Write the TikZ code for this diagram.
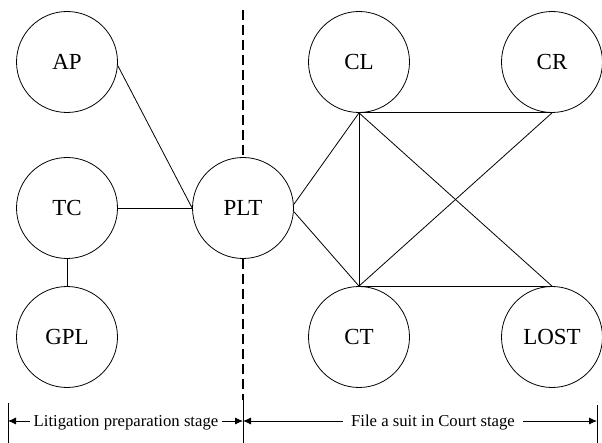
\documentclass[tikz,border=0pt]{standalone}
\usepackage{fontspec}
\setmainfont{Liberation Serif}
\usetikzlibrary{arrows.meta}
\begin{document}
\begin{tikzpicture}[x=1pt,y=-1pt,
  st/.style={circle,draw,line width=0.8pt,minimum size=101pt,inner sep=0pt,font=\fontsize{23}{26}\selectfont},
  link/.style={line width=0.8pt},
  divider/.style={line width=1.8pt,dash pattern=on 10pt off 5pt},
  stagearr/.style={line width=0.8pt,-{Latex[length=8pt,width=7pt]}},
  lab/.style={font=\fontsize{16.7}{19}\selectfont,inner sep=4pt},
  bar/.style={line width=0.8pt}]
\useasboundingbox (0,0) rectangle (602,443);
% states
\node[st] (AP) at (67,62) {AP};
\node[st] (TC) at (67,208) {TC};
\node[st] (GPL) at (67,337) {GPL};
\node[st] (PLT) at (243,208) {PLT};
\node[st] (CL) at (359,62) {CL};
\node[st] (CR) at (552,62) {CR};
\node[st] (CT) at (359,337) {CT};
\node[st] (LOST) at (552,337) {LOST};
% links
\draw[link] (AP.-4) -- (PLT.west);
\draw[link] (TC.east) -- (PLT.west);
\draw[link] (TC.south) -- (GPL.north);
\draw[link] (PLT.4) -- (CL.south);
\draw[link] (PLT.-4) -- (CT.north);
\draw[link] (CL.south) -- (CR.south);
\draw[link] (CL.south) -- (CT.north);
\draw[link] (CL.south) -- (LOST.north);
\draw[link] (CR.south) -- (CT.north);
\draw[link] (CT.north) -- (LOST.north);
% divider
\coordinate (dtop) at (243,10);
\coordinate (dbot) at (243,400);
\draw[divider] (dtop) -- (PLT.north);
\draw[divider] (PLT.south) -- (dbot);
% stage bars
\coordinate (lbarT) at (8,403);
\coordinate (lbarB) at (8,443);
\coordinate (cbarB) at (243,443);
\coordinate (rbarT) at (597,405);
\coordinate (rbarB) at (597,443);
\draw[bar] (lbarT) -- (lbarB);
\draw[bar] (dbot) -- (cbarB);
\draw[bar] (rbarT) -- (rbarB);
\coordinate (la) at (8,421);
\coordinate (ca) at (243,421);
\coordinate (ra) at (597,421);
\node[lab,anchor=base] (lps) at (126,426) {Litigation preparation stage};
\node[lab,anchor=base,inner xsep=8pt] (fsc) at (433,426) {File a suit in Court stage};
\draw[stagearr] (lps.west |- la) -- (la);
\draw[stagearr] (lps.east |- ca) -- (ca);
\draw[stagearr] (fsc.west |- ca) -- (ca);
\draw[stagearr] (fsc.east |- ra) -- (ra);
\end{tikzpicture}
\end{document}
